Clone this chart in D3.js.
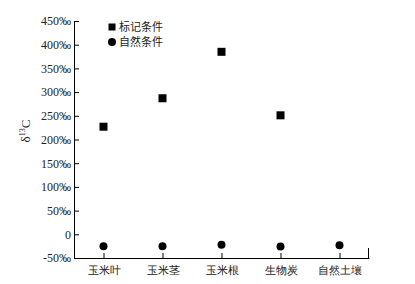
<!DOCTYPE html>
<html>
<head>
<meta charset="utf-8">
<script src="https://cdn.jsdelivr.net/npm/d3@7"></script>
<style>
  body { margin: 0; background: #fff; }
  svg { display: block; }
  .tick text { font-family: "Liberation Serif", "Times New Roman", serif; }
</style>
</head>
<body>
<svg id="chart" width="415" height="284"></svg>
<script>
// chart data
var categories = ["玉米叶", "玉米茎", "玉米根", "生物炭", "自然土壤"];
var labeled = [227, 287, 385, 251, null];   // 标记条件
var natural = [-25, -25, -22, -26, -23];     // 自然条件
var yTicks = [-50, 0, 50, 100, 150, 200, 250, 300, 350, 400, 450];
var seriesNames = ["标记条件", "自然条件"];

var svg = d3.select("#chart"),
  plotLeft = 74, plotRight = 369, plotTop = 21, plotBottom = 258;

var x = d3.scalePoint()
  .domain(categories)
  .range([plotLeft, plotRight])
  .padding(0.5);

var y = d3.scaleLinear()
  .domain([-50, 450])
  .range([plotBottom, plotTop]);

// y axis, ticks pointing inward
var yAxis = svg.append("g")
  .attr("transform", "translate(" + plotLeft + ",0)")
  .call(d3.axisLeft(y)
    .tickValues(yTicks)
    .tickSizeInner(-5)
    .tickSizeOuter(0)
    .tickFormat(function (d) { return d === 0 ? "0" : d + "‰"; }));

yAxis.selectAll("text")
  .attr("x", -3)
  .attr("font-size", 12)
  .attr("fill", "#222");

// x axis
var xAxis = svg.append("g")
  .attr("transform", "translate(0," + plotBottom + ")")
  .call(d3.axisBottom(x)
    .tickSizeInner(-5)
    .tickSizeOuter(0)
    .tickPadding(8));

xAxis.selectAll("text")
  .attr("font-family", "'Noto Sans CJK SC', sans-serif")
  .attr("font-size", 11)
  .attr("fill", "#222");

// small end mark at the right of the x axis
xAxis.append("line")
  .attr("x1", plotRight - 0.5).attr("x2", plotRight - 0.5)
  .attr("y1", 0).attr("y2", -10)
  .attr("stroke", "#000");

svg.selectAll(".domain, .tick line").attr("stroke", "#000");

// y axis title
var title = svg.append("text")
  .attr("transform", "translate(30,131) rotate(-90)")
  .attr("text-anchor", "middle")
  .attr("font-family", "'Liberation Serif', serif")
  .attr("font-size", 13)
  .attr("fill", "#222");
title.append("tspan").text("δ");
title.append("tspan").attr("dy", -5).attr("font-size", 8).text("13");
title.append("tspan").attr("dy", 5).text("C");

// squares
var sq = 8;
svg.selectAll("rect.labeled")
  .data(categories.map(function (c, i) { return { c: c, v: labeled[i] }; })
    .filter(function (d) { return d.v !== null; }))
  .enter().append("rect")
  .attr("class", "labeled")
  .attr("x", function (d) { return x(d.c) - sq / 2; })
  .attr("y", function (d) { return y(d.v) - sq / 2; })
  .attr("width", sq)
  .attr("height", sq)
  .attr("fill", "#000");

// circles
svg.selectAll("circle.natural")
  .data(categories.map(function (c, i) { return { c: c, v: natural[i] }; }))
  .enter().append("circle")
  .attr("class", "natural")
  .attr("cx", function (d) { return x(d.c); })
  .attr("cy", function (d) { return y(d.v); })
  .attr("r", 4)
  .attr("fill", "#000");

// legend
var legend = svg.append("g").attr("transform", "translate(112,27)");
legend.append("rect")
  .attr("x", -3.5).attr("y", -3.5)
  .attr("width", 7).attr("height", 7)
  .attr("fill", "#000");
legend.append("circle")
  .attr("cx", 0).attr("cy", 15)
  .attr("r", 4)
  .attr("fill", "#000");
legend.selectAll("text")
  .data(seriesNames)
  .enter().append("text")
  .attr("x", 7)
  .attr("y", function (d, i) { return i * 15 + 4; })
  .attr("font-family", "'Noto Sans CJK SC', sans-serif")
  .attr("font-size", 11)
  .attr("fill", "#222")
  .text(function (d) { return d; });
</script>
</body>
</html>
